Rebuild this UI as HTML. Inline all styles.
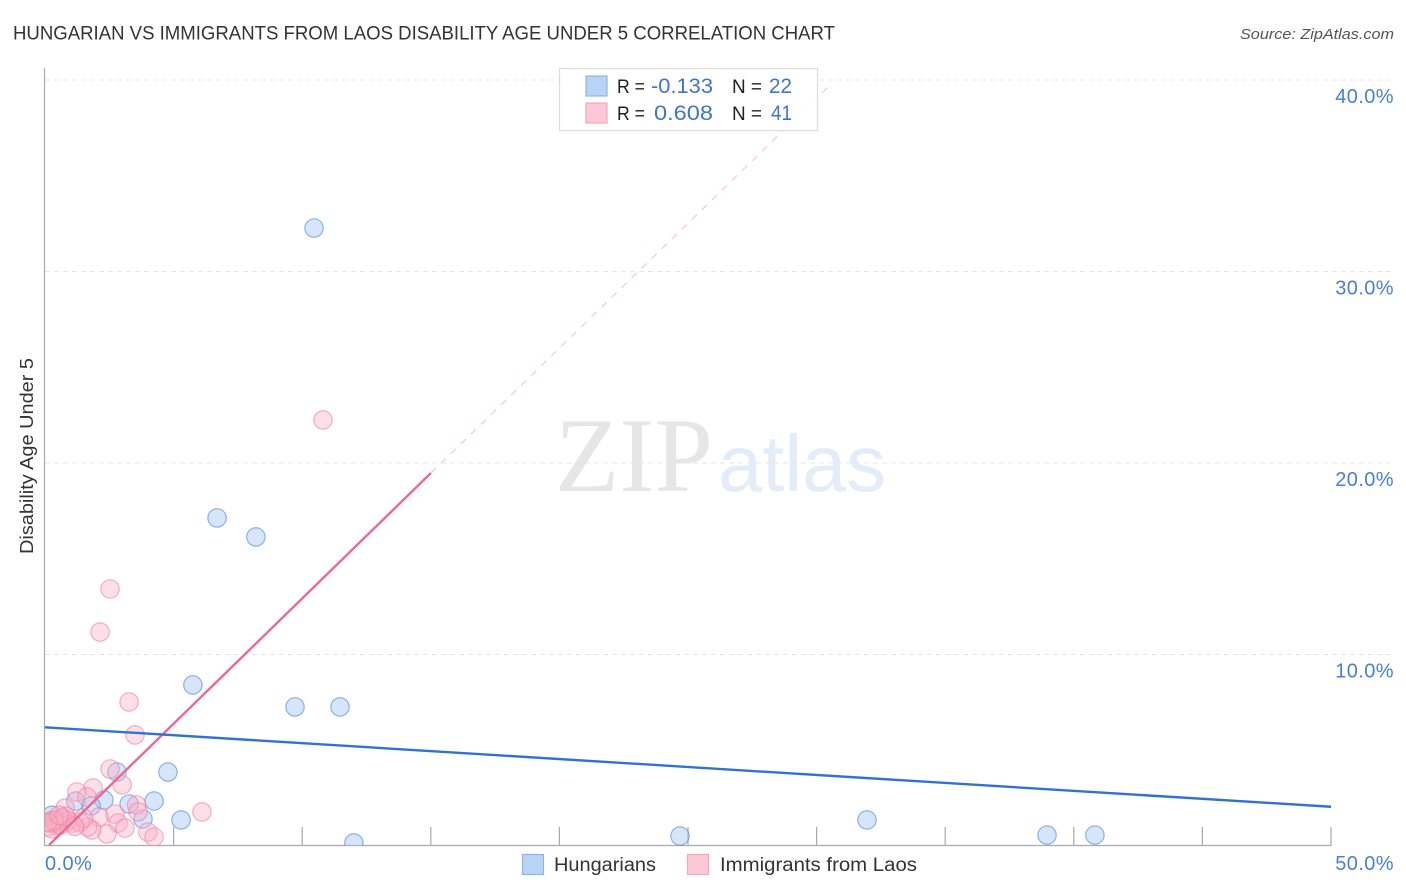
<!DOCTYPE html>
<html lang="en">
<head>
<meta charset="utf-8">
<title>Hungarian vs Immigrants from Laos Disability Age Under 5 Correlation Chart</title>
<style>
html,body{margin:0;padding:0;background:#fff;width:1406px;height:892px;overflow:hidden}
svg{display:block;font-family:"Liberation Sans",sans-serif}
</style>
</head>
<body>
<svg id="chart" width="1406" height="892" viewBox="0 0 1406 892" xmlns="http://www.w3.org/2000/svg">
  <defs><clipPath id="plot-clip"><rect x="45" y="68" width="1349" height="778"/></clipPath></defs>
  <text x="13" y="39.5" font-size="19" fill="#333" textLength="822" lengthAdjust="spacingAndGlyphs">HUNGARIAN VS IMMIGRANTS FROM LAOS DISABILITY AGE UNDER 5 CORRELATION CHART</text>
  <text x="1394" y="39" font-size="15" font-style="italic" fill="#555" text-anchor="end" textLength="154" lengthAdjust="spacingAndGlyphs">Source: ZipAtlas.com</text>
  <text transform="translate(33,456) rotate(-90)" font-size="18" fill="#333" text-anchor="middle" textLength="196" lengthAdjust="spacingAndGlyphs">Disability Age Under 5</text>
  <g>
    <text x="555" y="491" font-family="'Liberation Serif',serif" font-size="106" fill="#e6e6e6" textLength="158" lengthAdjust="spacingAndGlyphs">ZIP</text>
    <text x="718" y="491" font-size="80" fill="#e3ecf9" textLength="168" lengthAdjust="spacingAndGlyphs">atlas</text>
  </g>
  <g id="grid"></g>
  <g id="axes"></g>
  <g id="points" clip-path="url(#plot-clip)"></g>
  <g id="trends"></g>
  <g id="labels"></g>

  <g>
    <rect x="559.5" y="68.5" width="258" height="62" fill="#fff" fill-opacity="0.92" stroke="#dcdcdc" stroke-width="1.2"/>
    <rect x="586" y="76" width="21" height="20" fill="#b9d3f7" stroke="#8fb4e8" stroke-width="1.2"/>
    <rect x="586" y="103" width="21" height="20" fill="#fcc8d8" stroke="#f0a8bf" stroke-width="1.2"/>
    <text x="617" y="93" font-size="19" fill="#222" textLength="28" lengthAdjust="spacingAndGlyphs">R =</text>
    <text x="713" y="93" font-size="21" fill="#3f74d2" text-anchor="end" textLength="62" lengthAdjust="spacingAndGlyphs">-0.133</text>
    <text x="732" y="93" font-size="19" fill="#222" textLength="30" lengthAdjust="spacingAndGlyphs">N =</text>
    <text x="792" y="93" font-size="21" fill="#3f74d2" text-anchor="end" textLength="23" lengthAdjust="spacingAndGlyphs">22</text>
    <text x="617" y="120" font-size="19" fill="#222" textLength="28" lengthAdjust="spacingAndGlyphs">R =</text>
    <text x="713" y="120" font-size="21" fill="#3f74d2" text-anchor="end" textLength="59" lengthAdjust="spacingAndGlyphs">0.608</text>
    <text x="732" y="120" font-size="19" fill="#222" textLength="30" lengthAdjust="spacingAndGlyphs">N =</text>
    <text x="792" y="120" font-size="21" fill="#3f74d2" text-anchor="end" textLength="21" lengthAdjust="spacingAndGlyphs">41</text>
  </g>

  <g>
    <rect x="522.5" y="854.5" width="21" height="20" fill="#b9d3f7" stroke="#8fb4e8" stroke-width="1.2"/>
    <text x="554" y="871" font-size="19" fill="#333" textLength="102" lengthAdjust="spacingAndGlyphs">Hungarians</text>
    <rect x="687.5" y="854.5" width="21" height="20" fill="#fcc8d8" stroke="#f0a8bf" stroke-width="1.2"/>
    <text x="720" y="871" font-size="19" fill="#333" textLength="197" lengthAdjust="spacingAndGlyphs">Immigrants from Laos</text>
  </g>
</svg>
<script>
const yGridValues = [10, 20, 30, 40];
const xTickValues = [0, 5, 10, 15, 20, 25, 30, 35, 40, 45, 50];
const yTickLabels = ["10.0%", "20.0%", "30.0%", "40.0%"];
const xEdgeValues = [0, 50];
const xEdgeLabels = ["0.0%", "50.0%"];

const hungariansX = [10.46, 6.69, 8.2, 5.75, 9.72, 11.47, 2.8, 4.78, 4.24, 3.27, 2.29, 1.2, 1.79, 5.29, 3.81, 12.01, 24.69, 31.96, 38.96, 40.82, 0.27, 0.66];
const hungariansY = [32.27, 17.13, 16.14, 8.41, 7.26, 7.26, 3.86, 3.86, 2.35, 2.19, 2.4, 2.35, 2.09, 1.36, 1.41, 0.16, 0.52, 1.36, 0.57, 0.57, 1.6, 1.46];

const laosX = [10.81, 2.53, 2.14, 3.27, 3.5, 2.53, 3.0, 1.87, 1.24, 1.63, 0.78, 3.56, 3.62, 6.1, 2.72, 2.1, 2.84, 3.11, 2.41, 1.82, 1.66, 1.05, 4.0, 4.24, 0.39, 0.58, 0.31, 0.19, 0.7, 1.36, 0.9, 0.47, 0.12, 0.25, 0.6, 1.5, 0.8, 0.35, 0.1, 1.15, 0.55];
const laosY = [22.25, 13.42, 11.17, 7.52, 5.8, 4.02, 3.19, 3.03, 2.82, 2.56, 1.98, 2.14, 1.78, 1.78, 1.67, 1.51, 1.2, 0.94, 0.63, 0.84, 0.99, 1.2, 0.73, 0.47, 1.2, 1.36, 1.36, 1.2, 1.46, 1.25, 1.33, 1.05, 1.0, 0.9, 1.1, 1.45, 1.55, 1.3, 1.25, 1.02, 1.6];

const hungariansTrendX = [0, 50];
const hungariansTrendY = [6.2, 2.05];
const laosSolidX = [0.16, 15];
const laosSolidY = [0.05, 19.47];
const laosDashedX = [15, 30.5];
const laosDashedY = [19.47, 39.7];

const NS = "http://www.w3.org/2000/svg";
function xScale(v) { return 45 + v * 25.72; }
function yScale(v) { return 846 - v * 19.15; }
function make(tag, attrs, parent) {
  const el = document.createElementNS(NS, tag);
  for (const k in attrs) el.setAttribute(k, attrs[k]);
  parent.appendChild(el);
  return el;
}

const grid = document.getElementById("grid");
yGridValues.forEach(function (v) {
  const line = make("line", { x1: 45, x2: 1394, y1: yScale(v), y2: yScale(v), stroke: "#e6e6e6", "stroke-width": 1, "stroke-dasharray": "5 4" }, grid);
  
  
});

const axes = document.getElementById("axes");
const yAxis = make("line", { x1: 44.5, x2: 44.5, y1: 68, y2: 846, stroke: "#aaa", "stroke-width": 1.2 }, axes);


const xAxis = make("line", { x1: 44, x2: xScale(50), y1: 845.5, y2: 845.5, stroke: "#aaa", "stroke-width": 1.2 }, axes);


xTickValues.forEach(function (v) {
  if (v === 0) return;
  const tick = make("line", { x1: xScale(v), x2: xScale(v), y1: 827, y2: 846, stroke: "#aaa", "stroke-width": 1.2 }, axes);
  
  
});

const points = document.getElementById("points");
hungariansX.forEach(function (v, i) {
  const c = make("circle", { cx: xScale(v), cy: yScale(hungariansY[i]), r: 9.2, fill: "#a4c5f2", "fill-opacity": 0.45, stroke: "#5b8fdc", "stroke-opacity": 0.65, "stroke-width": 1.2 }, points);
  
  
});
laosX.forEach(function (v, i) {
  const c = make("circle", { cx: xScale(v), cy: yScale(laosY[i]), r: 9.2, fill: "#f9aec5", "fill-opacity": 0.4, stroke: "#ee7fa0", "stroke-opacity": 0.6, "stroke-width": 1.2 }, points);
  
  
});

const trends = document.getElementById("trends");
const dashed = make("line", { x1: xScale(laosDashedX[0]), y1: yScale(laosDashedY[0]), x2: xScale(laosDashedX[1]), y2: yScale(laosDashedY[1]), stroke: "#f4bccd", "stroke-width": 1, "stroke-dasharray": "7 7" }, trends);


const solidLaos = make("line", { x1: xScale(laosSolidX[0]), y1: yScale(laosSolidY[0]), x2: xScale(laosSolidX[1]), y2: yScale(laosSolidY[1]), stroke: "#ea6a95", "stroke-width": 2.4 }, trends);


const solidHung = make("line", { x1: xScale(hungariansTrendX[0]), y1: yScale(hungariansTrendY[0]), x2: xScale(hungariansTrendX[1]), y2: yScale(hungariansTrendY[1]), stroke: "#2f72d2", "stroke-width": 2.4 }, trends);



const labels = document.getElementById("labels");
yGridValues.forEach(function (v, i) {
  const t = make("text", { x: 1394, y: yScale(v) + 23, "font-size": 20, fill: "#4a7fd6", "text-anchor": "end", "letter-spacing": 0.4 }, labels);
  t.textContent = yTickLabels[i];
  
  
});
xEdgeValues.forEach(function (v, i) {
  const t = make("text", { x: i === 0 ? 45 : 1394, y: 870, "font-size": 20, fill: "#4a7fd6", "text-anchor": i === 0 ? "start" : "end", "letter-spacing": 0.4 }, labels);
  t.textContent = xEdgeLabels[i];
  
  
});
</script>
</body>
</html>
